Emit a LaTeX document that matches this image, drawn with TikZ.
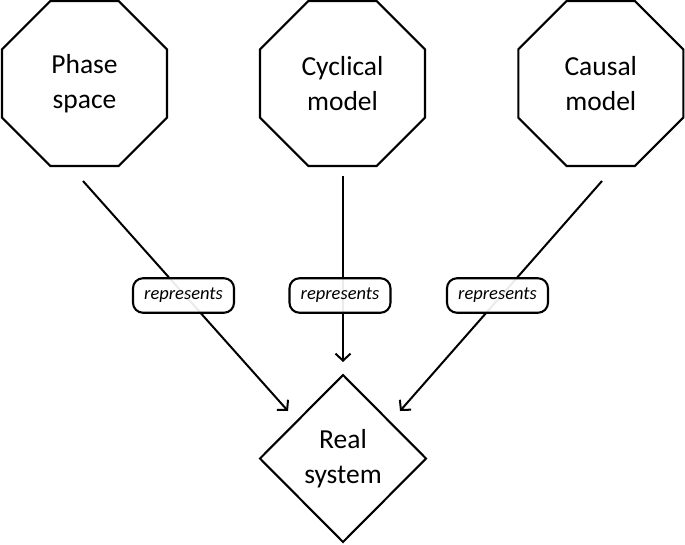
\documentclass[tikz,border=0pt]{standalone}
\usepackage{fontspec}
\setmainfont{Carlito}
\usetikzlibrary{shapes.geometric,arrows.meta}
\begin{document}
\begin{tikzpicture}[x=1pt,y=-1pt,
  octa/.style={draw,line width=2.1pt,regular polygon,regular polygon sides=8,minimum size=178.6pt,inner sep=0pt,outer sep=0pt,font=\fontsize{27.5}{35}\selectfont,align=center},
  realbox/.style={draw,line width=2.1pt,diamond,minimum width=166pt,minimum height=167pt,inner sep=0pt,outer sep=0pt,font=\fontsize{27.5}{35}\selectfont,align=center},
  relbox/.style={draw,line width=2.1pt,rounded corners=10pt,minimum width=101pt,minimum height=34.5pt,inner sep=0pt,fill=white,fill opacity=0.92,text opacity=1,font=\fontsize{18.5}{20}\selectfont\itshape},
  conn/.style={line width=2pt,-{Straight Barb[length=7pt,width=15pt,line width=2pt]}}]
\useasboundingbox (0,0) rectangle (685,544);
\node[octa] (ps) at (84.5,83.5) {Phase\\space};
\node[octa] (cm) at (342.5,83.5) {Cyclical\\model};
\node[octa] (ca) at (600.8,83.5) {Causal\\model};
\node[realbox] (rs) at (343,458.5) {Real\\system};
\coordinate (psS) at (83,181);
\coordinate (cmS) at (343,176);
\coordinate (caS) at (602,181);
\coordinate (rsL) at (288,411);
\coordinate (rsT) at (343,362);
\coordinate (rsR) at (400,411);
\draw[conn] (psS) -- (rsL);
\draw[conn] (cmS) -- (rsT);
\draw[conn] (caS) -- (rsR);
\node[relbox] (r1) at (183.5,295.5) {represents};
\node[relbox] (r2) at (340,295.5) {represents};
\node[relbox] (r3) at (497.5,295.5) {represents};
\end{tikzpicture}
\end{document}
